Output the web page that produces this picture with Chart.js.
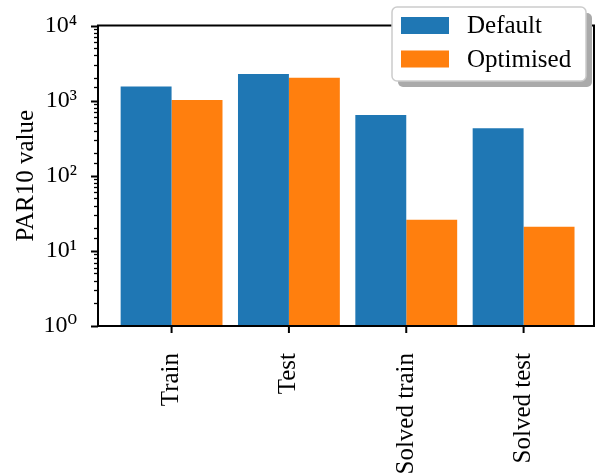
<!DOCTYPE html>
<html>
<head>
<meta charset="utf-8">
<script src="https://cdn.jsdelivr.net/npm/chart.js@4/dist/chart.umd.min.js"></script>
<style>
  html, body { margin: 0; padding: 0; background: #fff; }
  #wrap { width: 605px; height: 476px; }
</style>
</head>
<body>
<div id="wrap"><canvas id="c" width="605" height="476"></canvas></div>
<script>
const categories = ['Train', 'Test', 'Solved train', 'Solved test'];
const defaultVals   = [1540, 2270, 646, 430];
const optimisedVals = [1020, 2010, 26, 21];
const seriesNames   = ['Default', 'Optimised'];

const BLUE = '#1f77b4', ORANGE = '#ff7f0e';
const FONT = "'Liberation Serif', 'DejaVu Serif', serif";
const SUP  = ['\u2070', '\u00b9', '\u00b2', '\u00b3', '\u2074'];

const isPow10 = v => { const l = Math.log10(v); return Math.abs(l - Math.round(l)) < 1e-9; };

// frame, tick marks and the legend box (matplotlib style)
const axesPlugin = {
  id: 'mplAxes',
  afterDatasetsDraw(chart) {
    const { ctx, chartArea: a, scales } = chart;
    ctx.save();
    ctx.strokeStyle = '#000';
    // y ticks (major + minor)
    scales.y.ticks.forEach(t => {
      const py = Math.round(scales.y.getPixelForValue(t.value)) + 0.5;
      const major = isPow10(t.value);
      ctx.lineWidth = major ? 2 : 1.3;
      ctx.beginPath();
      ctx.moveTo(a.left, py);
      ctx.lineTo(a.left - (major ? 7 : 4), py);
      ctx.stroke();
    });
    // x ticks
    ctx.lineWidth = 2;
    categories.forEach((c, i) => {
      const px = scales.x.getPixelForValue(i);
      ctx.beginPath();
      ctx.moveTo(px, a.bottom);
      ctx.lineTo(px, a.bottom + 7);
      ctx.stroke();
    });
    // frame
    ctx.lineWidth = 2;
    ctx.strokeRect(a.left, a.top, a.right - a.left, a.bottom - a.top);

    // legend
    const bx = 392, by = 7, bw = 194, bh = 74, r = 5;
    const rr = (x, y, w, h) => {
      ctx.beginPath();
      ctx.moveTo(x + r, y);
      ctx.arcTo(x + w, y, x + w, y + h, r);
      ctx.arcTo(x + w, y + h, x, y + h, r);
      ctx.arcTo(x, y + h, x, y, r);
      ctx.arcTo(x, y, x + w, y, r);
      ctx.closePath();
    };
    ctx.fillStyle = '#aaaaaa';
    rr(bx + 6, by + 6, bw, bh); ctx.fill();
    ctx.fillStyle = '#ffffff';
    rr(bx, by, bw, bh); ctx.fill();
    ctx.strokeStyle = '#cccccc'; ctx.lineWidth = 1.5;
    rr(bx, by, bw, bh); ctx.stroke();

    ctx.font = '25px ' + FONT;
    ctx.textBaseline = 'middle';
    ctx.textAlign = 'left';
    chart.data.datasets.forEach((ds, i) => {
      const cy = 25.5 + i * 33.5;
      ctx.fillStyle = ds.backgroundColor;
      ctx.fillRect(401, cy - 8.5, 48, 17);
      ctx.fillStyle = '#000';
      ctx.fillText(ds.label, 467, cy + 1);
    });
    ctx.restore();
  }
};

new Chart(document.getElementById('c'), {
  type: 'bar',
  data: {
    datasets: [
      { label: seriesNames[0], data: defaultVals.map((v, i) => ({ x: i, y: v })), backgroundColor: BLUE },
      { label: seriesNames[1], data: optimisedVals.map((v, i) => ({ x: i, y: v })), backgroundColor: ORANGE },
    ]
  },
  options: {
    responsive: false,
    animation: false,
    layout: { padding: { top: 25.5, right: 11, left: 0, bottom: 0 } },
    datasets: { bar: { categoryPercentage: 0.868, barPercentage: 1, borderWidth: 0 } },
    plugins: { legend: { display: false }, tooltip: { enabled: false } },
    scales: {
      x: {
        type: 'linear', offset: false, min: -0.627, max: 3.6,
        grid: { display: false }, border: { display: false },
        afterBuildTicks: s => { s.ticks = categories.map((c, i) => ({ value: i })); },
        afterFit: s => { s.height = 150; s.paddingLeft = 0; s.paddingRight = 0; },
        ticks: {
          minRotation: 90, maxRotation: 90, padding: 19, autoSkip: false,
          color: '#000', font: { family: FONT, size: 25 },
          callback: v => categories[v]
        }
      },
      y: {
        type: 'logarithmic', min: 1, max: 10000,
        grid: { display: false }, border: { display: false },
        afterFit: s => { s.width = 98; s.paddingTop = 0; s.paddingBottom = 0; },
        ticks: {
          padding: 13, autoSkip: false, color: '#000',
          font: { family: FONT, size: 24 },
          callback: v => isPow10(v) ? '10' + SUP[Math.round(Math.log10(v))] : ''
        },
        title: {
          display: true, text: 'PAR10 value', color: '#000',
          font: { family: FONT, size: 25 }, padding: { top: 11, bottom: 0 }
        }
      }
    }
  },
  plugins: [axesPlugin]
});
</script>
</body>
</html>
